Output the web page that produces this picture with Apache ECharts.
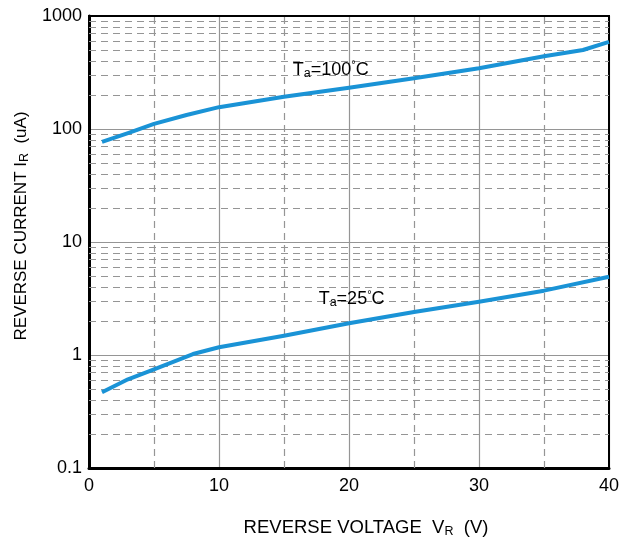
<!DOCTYPE html>
<html>
<head>
<meta charset="utf-8">
<script src="https://cdn.jsdelivr.net/npm/echarts@6/dist/echarts.min.js"></script>
<style>html,body{margin:0;padding:0;background:#fff;}#c{width:631px;height:545px;}</style>
</head>
<body>
<div id="c"></div>
<script>
// Data
var voltage100 = [1, 3, 5, 7.5, 10, 15, 20, 25, 30, 35, 38, 40];
var current100 = [77, 92, 111, 133, 156, 193, 232, 281, 345, 440, 500, 590];
var voltage25 = [1, 3, 5, 8, 10, 15, 20, 25, 30, 35, 40];
var current25 = [0.468, 0.61, 0.747, 1.02, 1.17, 1.48, 1.91, 2.40, 2.96, 3.71, 4.93];
var xTickLabels = ['0', '10', '20', '30', '40'];
var yTickLabels = ['0.1', '1', '10', '100', '1000'];
var minorX = [5, 15, 25, 35];
var decades = [0.1, 1, 10, 100];
var multipliers = [2, 3, 4, 5, 6, 7, 8, 9];

var FONT = 'Liberation Sans, Arial, sans-serif';
var BLUE = '#1a93d6';
var GRIDC = '#959595';

function pairs(xs, ys) { return xs.map(function (x, i) { return [x, ys[i]]; }); }

var minorLines = [];
minorX.forEach(function (v) { minorLines.push({ xAxis: v }); });
decades.forEach(function (d) {
  multipliers.forEach(function (m) { minorLines.push({ yAxis: +(d * m).toPrecision(3) }); });
});

var labelRich = {
  t: { fontSize: 18, fontFamily: FONT, color: '#000', lineHeight: 20 },
  s: { fontSize: 12.5, fontFamily: FONT, color: '#000', verticalAlign: 'bottom', lineHeight: 11 },
  d: { fontSize: 11, fontFamily: FONT, color: '#000', verticalAlign: 'top', lineHeight: 11 }
};

var chart = echarts.init(document.getElementById('c'), null, { renderer: 'canvas' });
chart.setOption({
  animation: false,
  backgroundColor: '#fff',
  textStyle: { fontFamily: FONT },
  grid: {
    left: 89, right: 22, top: 16, bottom: 77,
    containLabel: false, outerBoundsMode: 'none',
    show: true, borderColor: '#000', borderWidth: 2, backgroundColor: 'transparent', z: 3
  },
  xAxis: {
    type: 'value', min: 0, max: 40, interval: 10,
    axisLine: { show: true, lineStyle: { color: '#000', width: 3 } },
    axisTick: { show: false },
    axisLabel: {
      color: '#000', fontSize: 18, fontFamily: FONT, margin: 9,
      formatter: function (v) { return xTickLabels[Math.round(v / 10)]; }
    },
    splitLine: { show: true, lineStyle: { color: GRIDC, width: 1.2 } }
  },
  yAxis: {
    type: 'log', logBase: 10, min: 0.1, max: 1000,
    axisLine: { show: true, lineStyle: { color: '#000', width: 3 } },
    axisTick: { show: false },
    axisLabel: {
      color: '#000', fontSize: 18, fontFamily: FONT, margin: 7,
      formatter: function (v) {
        var i = Math.round(Math.log10(v) + 1);
        return yTickLabels[i] !== undefined ? yTickLabels[i] : '';
      }
    },
    splitLine: { show: true, lineStyle: { color: GRIDC, width: 1.2 } },
    minorSplitLine: { show: false }
  },
  series: [
    {
      type: 'line', data: [], silent: true, z: 1,
      markLine: {
        silent: true, symbol: ['none', 'none'], animation: false,
        label: { show: false },
        lineStyle: { color: GRIDC, width: 1.2, type: [7, 5] },
        emphasis: { disabled: true },
        data: minorLines
      }
    },
    {
      name: 'Ta=100°C', type: 'line', smooth: false, showSymbol: false, z: 5,
      lineStyle: { color: BLUE, width: 4, join: 'round', cap: 'butt' },
      data: pairs(voltage100, current100),
      markPoint: {
        symbol: 'circle', symbolSize: 1, itemStyle: { color: 'rgba(0,0,0,0)' },
        label: {
          show: true, position: 'inside',
          formatter: '{t|T}{s|a}{t|=100}{d|°}{t|C}',
          rich: labelRich
        },
        data: [{ coord: [18.6, 335], value: 0 }]
      }
    },
    {
      name: 'Ta=25°C', type: 'line', smooth: false, showSymbol: false, z: 5,
      lineStyle: { color: BLUE, width: 4, join: 'round', cap: 'butt' },
      data: pairs(voltage25, current25),
      markPoint: {
        symbol: 'circle', symbolSize: 1, itemStyle: { color: 'rgba(0,0,0,0)' },
        label: {
          show: true, position: 'inside',
          formatter: '{t|T}{s|a}{t|=25}{d|°}{t|C}',
          rich: labelRich
        },
        data: [{ coord: [20.2, 3.1], value: 0 }]
      }
    }
  ],
  graphic: [
    {
      type: 'text', x: 366, y: 528, z: 10,
      style: {
        text: '{a|REVERSE VOLTAGE  V}{s|R}{a|  (V)}',
        align: 'center', verticalAlign: 'middle',
        rich: {
          a: { fontSize: 18.5, fontFamily: FONT, fill: '#000', lineHeight: 20 },
          s: { fontSize: 12.5, fontFamily: FONT, fill: '#000', verticalAlign: 'bottom', lineHeight: 13 }
        }
      }
    },
    {
      type: 'text', x: 21, y: 226, rotation: Math.PI / 2, z: 10,
      style: {
        text: '{a|REVERSE CURRENT I}{s|R}{a|  (uA)}',
        align: 'center', verticalAlign: 'middle',
        rich: {
          a: { fontSize: 17, fontFamily: FONT, fill: '#000', lineHeight: 20 },
          s: { fontSize: 12.5, fontFamily: FONT, fill: '#000', verticalAlign: 'bottom', lineHeight: 13 }
        }
      }
    }
  ]
});
</script>
</body>
</html>
